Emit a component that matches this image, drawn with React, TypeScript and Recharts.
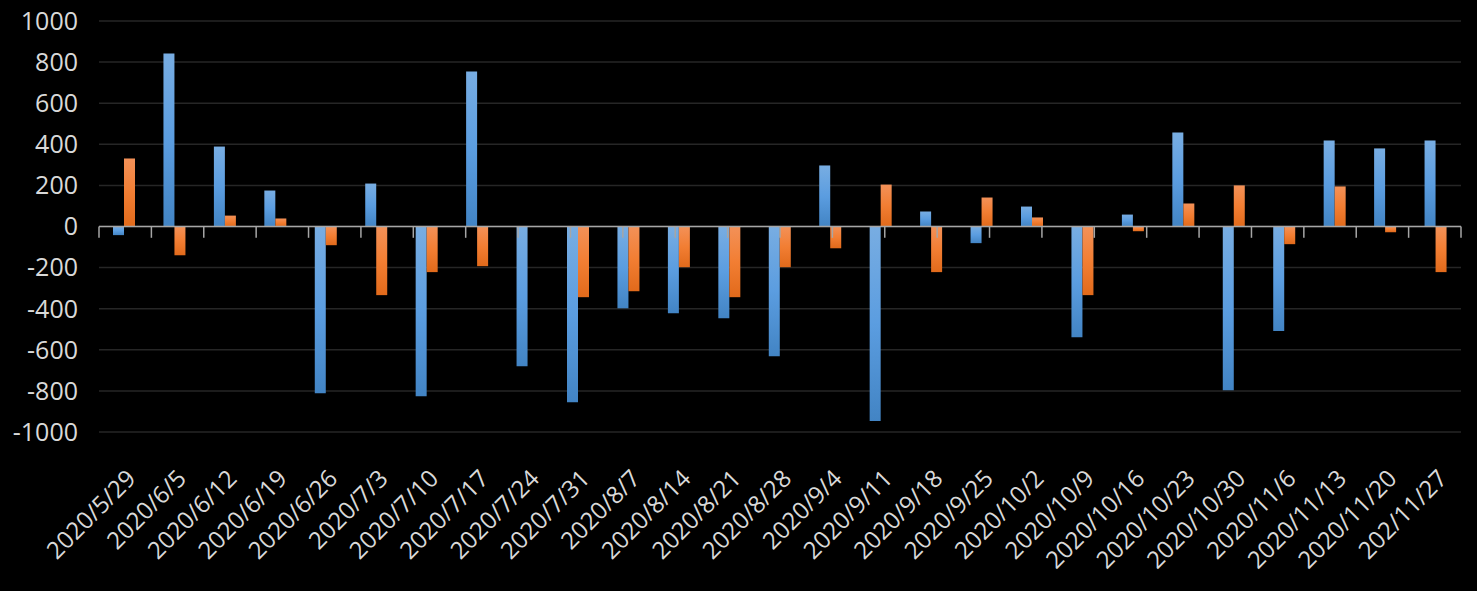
import React from 'react';
import { BarChart, Bar, XAxis, YAxis, CartesianGrid, ReferenceLine } from 'recharts';

const categories = ['2020/5/29','2020/6/5','2020/6/12','2020/6/19','2020/6/26','2020/7/3','2020/7/10','2020/7/17','2020/7/24','2020/7/31','2020/8/7','2020/8/14','2020/8/21','2020/8/28','2020/9/4','2020/9/11','2020/9/18','2020/9/25','2020/10/2','2020/10/9','2020/10/16','2020/10/23','2020/10/30','2020/11/6','2020/11/13','2020/11/20','202/11/27'];
const blueValues = [-42, 842, 389, 175, -811, 209, -826, 754, -680, -855, -398, -422, -446, -631, 297, -947, 73, -81, 97, -539, 58, 457, -797, -509, 418, 380, 418];
const orangeValues = [331, -140, 53, 39, -91, -334, -222, -193, null, -344, -315, -198, -344, -198, -106, 204, -222, 141, 44, -334, -23, 112, 200, -86, 195, -28, -222];
const yTicks = [-1000, -800, -600, -400, -200, 0, 200, 400, 600, 800, 1000];

const data = categories.map((c, i) => ({ name: c, a: blueValues[i], b: orangeValues[i] }));
const boundaries = [...categories.map((_, i) => i), categories.length];

const TEXT = '#d9d9d9';
const FONT = '"Open Sans", sans-serif';

const XTick = (props: any) => {
  const { x, y, payload } = props;
  return (
    <text
      x={0}
      y={0}
      transform={`translate(${x + 13},${y + 48}) rotate(-45)`}
      textAnchor="end"
      fill={TEXT}
      fontSize={24}
      fontFamily={FONT}
    >
      {payload.value}
    </text>
  );
};

export default function App() {
  return (
    <div style={{ position: 'fixed', left: 0, top: 0, width: 1477, height: 591, background: '#000' }}>
      <BarChart
        width={1477}
        height={591}
        data={data}
        margin={{ top: 21, right: 16, left: 0, bottom: 19 }}
        barSize={11}
        barGap={0}
      >
        <defs>
          <linearGradient id="gBlue" x1="0" y1="0" x2="0" y2="1">
            <stop offset="0%" stopColor="#78ade2" />
            <stop offset="50%" stopColor="#5b9de0" />
            <stop offset="100%" stopColor="#4284c4" />
          </linearGradient>
          <linearGradient id="gOrange" x1="0" y1="0" x2="0" y2="1">
            <stop offset="0%" stopColor="#f39158" />
            <stop offset="50%" stopColor="#f27e33" />
            <stop offset="100%" stopColor="#e16a1b" />
          </linearGradient>
        </defs>
        <CartesianGrid vertical={false} stroke="#262626" strokeWidth={1.5} />
        <XAxis
          dataKey="name"
          interval={0}
          axisLine={false}
          tickLine={false}
          tickSize={0}
          tickMargin={0}
          height={140}
          tick={<XTick />}
        />
        <XAxis xAxisId="num" type="number" domain={[0, categories.length]} hide />
        <YAxis
          width={99}
          domain={[-1000, 1000]}
          ticks={yTicks}
          interval={0}
          axisLine={false}
          tickLine={false}
          tickSize={0}
          tickMargin={21}
          tick={{ fill: TEXT, fontSize: 25, fontFamily: FONT }}
        />
        <Bar dataKey="a" fill="url(#gBlue)" isAnimationActive={false} />
        <Bar dataKey="b" fill="url(#gOrange)" isAnimationActive={false} />
        <ReferenceLine y={0} stroke="#a6a6a6" strokeWidth={1.5} />
        {boundaries.map((b) => (
          <ReferenceLine
            key={b}
            xAxisId="num"
            segment={[{ x: b, y: 0 }, { x: b, y: -55 }]}
            stroke="#a6a6a6"
            strokeWidth={1.5}
          />
        ))}
      </BarChart>
    </div>
  );
}
